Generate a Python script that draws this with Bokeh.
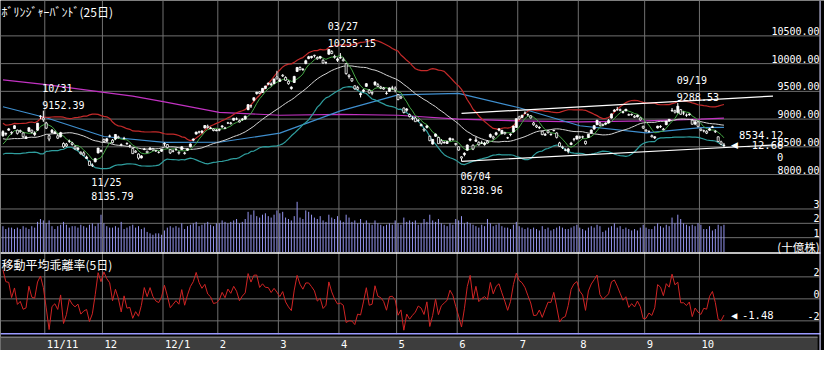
import numpy as np
from bokeh.plotting import figure
from bokeh.models import Range1d, Label
from bokeh.core.properties import value
from bokeh.embed import file_html
from bokeh.resources import INLINE

# ---------------- data (Nikkei 225, daily, 2011/10/11 - 2012/10/12) ----------------
pre_closes = [8951, 8784, 8591, 8763, 8793, 8738, 8536, 8617, 8519, 8669, 8864, 8721,
              8741, 8560, 8374, 8610, 8616, 8701, 8700, 8545, 8456, 8383, 8522, 8606]

opens = [
    8700, 8730, 8800, 8760, 8830, 8800, 8790, 8750, 8650, 8780, 8800, 8720, 8800, 9050, 9020,
    8930, 8700, 8760, 8740, 8700, 8680, 8560, 8550, 8600, 8570, 8500, 8450, 8400, 8390, 8290, 8240, 8170, 8230, 8390, 8420,
    8630, 8600, 8690, 8620, 8640, 8680, 8540, 8650, 8560, 8520, 8470, 8420, 8370, 8300, 8450, 8420, 8450, 8470, 8430, 8400, 8420,
    8550, 8540, 8450, 8420, 8450, 8400, 8450, 8390, 8440, 8500, 8620, 8730, 8770, 8760, 8840, 8870, 8830, 8820, 8790,
    8800, 8860, 8840, 8930, 8930, 8980, 9000, 8970, 8990, 9000, 9170, 9240, 9340, 9460, 9490, 9480, 9550, 9630, 9620, 9640, 9760,
    9680, 9790, 9750, 9680, 9550, 9660, 9860, 9930, 9890, 10000, 10090, 10110, 10150, 10110, 10100, 10060, 10020, 10170, 10220, 10130, 10060,
    10100, 10070, 10000, 9790, 9730, 9600, 9570, 9440, 9500, 9590, 9520, 9480, 9620, 9620, 9580, 9560, 9460, 9500, 9560, 9560,
    9440, 9400, 9200, 9160, 9080, 9020, 9020, 8970, 8880, 8820, 8850, 8690, 8550, 8690, 8670, 8610, 8570, 8560, 8620, 8640, 8560,
    8500, 8320, 8360, 8440, 8620, 8530, 8600, 8580, 8570, 8540, 8600, 8680, 8680, 8720, 8800, 8740, 8760, 8660, 8720, 8770, 8850,
    9040, 9030, 9110, 9080, 9060, 8930, 8880, 8840, 8780, 8710, 8790, 8720, 8790, 8750, 8570, 8500, 8440, 8420, 8540, 8640, 8640,
    8680, 8680, 8600, 8670, 8750, 8820, 8900, 8930, 8900, 8910, 8930, 9020, 9140, 9170, 9170, 9120, 9150, 9080, 9080, 9050, 9040, 9020, 8870,
    8800, 8770, 8700, 8660, 8840, 8860, 8820, 8900, 8970, 9150, 9150, 9120, 9170, 9110, 9070, 9080, 8980, 8910, 8950,
    8820, 8790, 8780, 8800, 8850, 8780, 8680, 8590, 8520]

highs = [
    8800, 8760, 8840, 8780, 8890, 8810, 8810, 8760, 8700, 8850, 8810, 8780, 8930, 9070, 9152,
    8950, 8720, 8820, 8790, 8730, 8770, 8580, 8570, 8630, 8590, 8530, 8490, 8420, 8420, 8340, 8250, 8200, 8300, 8480, 8450,
    8650, 8660, 8720, 8640, 8730, 8700, 8560, 8680, 8580, 8540, 8480, 8440, 8380, 8350, 8480, 8430, 8490, 8480, 8440, 8420, 8460,
    8580, 8550, 8460, 8450, 8480, 8420, 8510, 8410, 8470, 8560, 8650, 8770, 8790, 8800, 8890, 8900, 8860, 8830, 8820,
    8830, 8890, 8860, 8950, 8950, 9020, 9030, 8990, 9020, 9060, 9270, 9260, 9390, 9490, 9500, 9560, 9600, 9660, 9660, 9730, 9870,
    9740, 9810, 9770, 9700, 9590, 9780, 9940, 9950, 9920, 10070, 10140, 10140, 10160, 10130, 10140, 10080, 10040, 10255, 10240, 10160, 10110,
    10190, 10110, 10010, 9810, 9740, 9610, 9600, 9480, 9540, 9650, 9540, 9500, 9680, 9650, 9600, 9580, 9500, 9570, 9600, 9590,
    9450, 9420, 9210, 9200, 9100, 9050, 9040, 9000, 8920, 8830, 8890, 8700, 8640, 8740, 8680, 8640, 8600, 8610, 8660, 8650, 8570,
    8510, 8330, 8400, 8540, 8650, 8540, 8680, 8600, 8610, 8590, 8620, 8740, 8700, 8770, 8830, 8800, 8770, 8680, 8740, 8880, 9010,
    9060, 9080, 9140, 9100, 9070, 8950, 8900, 8870, 8790, 8750, 8800, 8740, 8810, 8760, 8590, 8520, 8470, 8480, 8590, 8660, 8700,
    8700, 8700, 8610, 8730, 8810, 8890, 8980, 8950, 8920, 8940, 9000, 9100, 9180, 9220, 9190, 9150, 9180, 9100, 9100, 9070, 9080, 9030, 8880,
    8820, 8800, 8720, 8690, 8880, 8890, 8840, 8970, 9000, 9200, 9170, 9289, 9180, 9140, 9100, 9100, 9000, 8960, 8970,
    8830, 8810, 8800, 8840, 8880, 8800, 8690, 8610, 8570]

lows = [
    8680, 8700, 8790, 8720, 8820, 8720, 8750, 8660, 8640, 8770, 8740, 8690, 8790, 9000, 8950,
    8820, 8600, 8750, 8730, 8640, 8670, 8480, 8500, 8570, 8520, 8450, 8430, 8360, 8340, 8280, 8160, 8136, 8220, 8380, 8400,
    8580, 8590, 8670, 8560, 8620, 8650, 8510, 8630, 8540, 8480, 8370, 8390, 8270, 8290, 8440, 8390, 8440, 8430, 8410, 8380, 8410,
    8510, 8470, 8370, 8400, 8430, 8360, 8440, 8360, 8430, 8490, 8600, 8720, 8740, 8740, 8830, 8830, 8820, 8780, 8780,
    8780, 8840, 8820, 8910, 8900, 8970, 8980, 8940, 8970, 8990, 9160, 9200, 9320, 9440, 9450, 9470, 9540, 9610, 9590, 9630, 9720,
    9670, 9760, 9690, 9620, 9530, 9650, 9850, 9880, 9870, 9990, 10080, 10090, 10110, 10070, 10080, 10000, 9990, 10160, 10170, 10090, 10030,
    10090, 10040, 9800, 9730, 9670, 9530, 9520, 9390, 9480, 9580, 9460, 9430, 9600, 9580, 9540, 9530, 9440, 9490, 9530, 9480,
    9340, 9360, 9100, 9130, 9030, 8980, 8950, 8950, 8870, 8770, 8830, 8600, 8540, 8680, 8550, 8540, 8560, 8550, 8600, 8610, 8520,
    8430, 8239, 8330, 8430, 8600, 8440, 8590, 8520, 8550, 8520, 8560, 8660, 8630, 8700, 8780, 8720, 8720, 8640, 8690, 8760, 8840,
    8990, 9020, 9090, 9050, 9010, 8880, 8840, 8820, 8710, 8700, 8740, 8700, 8780, 8650, 8500, 8460, 8420, 8380, 8530, 8600, 8630,
    8640, 8650, 8540, 8660, 8740, 8810, 8890, 8870, 8870, 8890, 8920, 9010, 9130, 9150, 9140, 9100, 9140, 9060, 9060, 9020, 9030, 8970, 8820,
    8770, 8760, 8670, 8640, 8830, 8840, 8800, 8890, 8950, 9130, 9100, 9100, 9080, 9070, 9040, 9060, 8900, 8890, 8850,
    8780, 8760, 8730, 8790, 8840, 8750, 8590, 8530, 8490]

closes = [
    8774, 8739, 8823, 8748, 8880, 8742, 8773, 8682, 8679, 8844, 8762, 8748, 8927, 9050, 8988,
    8836, 8640, 8801, 8767, 8656, 8755, 8501, 8514, 8604, 8542, 8463, 8480, 8375, 8348, 8315, 8165, 8160, 8287, 8478, 8435,
    8597, 8644, 8696, 8575, 8722, 8665, 8536, 8654, 8553, 8519, 8377, 8402, 8296, 8336, 8460, 8395, 8479, 8441, 8424, 8399, 8455,
    8560, 8489, 8390, 8422, 8448, 8386, 8500, 8378, 8466, 8551, 8640, 8766, 8766, 8785, 8884, 8849, 8841, 8793, 8803,
    8810, 8877, 8832, 8929, 8918, 9016, 9002, 8947, 8999, 9052, 9260, 9238, 9384, 9485, 9463, 9554, 9596, 9647, 9634, 9723, 9723,
    9707, 9777, 9699, 9638, 9576, 9769, 9930, 9890, 9899, 10051, 10123, 10130, 10142, 10086, 10127, 10011, 10018, 10255, 10183, 10115, 10084,
    10110, 10050, 9820, 9768, 9688, 9546, 9538, 9459, 9525, 9638, 9471, 9465, 9667, 9588, 9561, 9542, 9466, 9562, 9561, 9521,
    9351, 9380, 9119, 9182, 9045, 9010, 8953, 8974, 8901, 8801, 8877, 8611, 8633, 8729, 8557, 8564, 8580, 8593, 8658, 8633, 8543,
    8440, 8296, 8383, 8533, 8639, 8459, 8625, 8537, 8568, 8569, 8569, 8721, 8656, 8752, 8824, 8798, 8735, 8663, 8730, 8874, 9007,
    9003, 9067, 9104, 9080, 9021, 8897, 8858, 8851, 8720, 8724, 8755, 8727, 8796, 8670, 8508, 8488, 8443, 8462, 8567, 8635, 8695,
    8665, 8678, 8555, 8726, 8803, 8881, 8979, 8891, 8885, 8930, 8973, 9093, 9163, 9171, 9157, 9132, 9178, 9071, 9085, 9033, 9069, 8984, 8840,
    8784, 8776, 8680, 8681, 8872, 8869, 8807, 8960, 8995, 9159, 9124, 9232, 9087, 9110, 9069, 9092, 8907, 8950, 8870,
    8797, 8786, 8747, 8825, 8863, 8770, 8596, 8547, 8534]

volumes = [  # billions of shares
    1.8, 1.6, 1.7, 1.7, 1.6, 1.7, 1.6, 1.8, 1.7, 1.6, 1.8, 1.7, 2.1, 2.3, 2.2,
    2.0, 2.2, 1.8, 1.6, 1.8, 1.9, 2.1, 1.9, 1.7, 1.8, 1.8, 1.7, 1.9, 1.8, 1.7, 1.9, 2.0, 1.8, 2.0, 2.6,
    2.0, 1.8, 1.7, 1.7, 1.8, 1.7, 2.1, 1.6, 1.7, 1.8, 1.9, 1.7, 1.8, 1.6, 1.7, 1.4, 1.3, 1.2, 1.3, 1.3, 1.2,
    1.5, 1.7, 1.8, 1.7, 1.8, 1.7, 2.0, 1.6, 1.8, 1.9, 2.0, 2.1, 1.8, 1.9, 2.0, 2.1, 1.9, 1.8, 2.0,
    2.0, 2.2, 2.1, 2.0, 2.1, 2.2, 2.3, 2.0, 2.1, 2.3, 2.8, 2.6, 2.9, 2.5, 2.4, 2.6, 2.7, 2.5, 2.4, 2.6, 2.9,
    2.7, 2.8, 2.4, 2.3, 2.2, 2.5, 3.5, 2.4, 2.3, 2.9, 2.8, 2.6, 2.4, 2.3, 2.5, 2.2, 2.1, 2.6, 2.4, 2.3, 2.5,
    2.2, 2.1, 2.6, 2.4, 2.1, 2.2, 2.0, 2.3, 2.0, 2.2, 2.0, 1.9, 2.2, 2.0, 1.9, 1.8, 1.9, 2.0, 1.9, 2.2,
    2.0, 1.9, 2.4, 2.1, 2.2, 2.1, 2.2, 1.9, 2.0, 2.3, 2.1, 2.6, 2.2, 2.1, 2.3, 2.0, 1.9, 1.8, 2.0, 1.9, 2.3,
    2.2, 2.5, 2.0, 2.1, 2.0, 1.9, 1.8, 1.7, 1.9, 1.8, 2.3, 2.0, 1.8, 1.9, 2.0, 1.8, 1.7, 1.7, 1.6, 1.9, 2.1,
    1.8, 1.7, 1.6, 1.7, 1.6, 1.7, 1.6, 1.5, 1.8, 1.6, 1.7, 1.5, 1.6, 1.7, 1.8, 1.7, 1.6, 1.6, 1.7, 1.8, 1.9,
    1.7, 1.6, 1.5, 1.7, 1.8, 1.7, 1.9, 1.8, 1.4, 1.5, 1.7, 1.8, 2.0, 1.7, 1.8, 1.6, 1.7, 1.6, 1.5, 1.6, 1.5, 1.7, 1.9,
    1.7, 1.6, 1.6, 1.8, 2.0, 1.8, 1.7, 1.9, 1.8, 2.4, 2.0, 2.6, 2.3, 2.0, 1.9, 1.8, 1.9, 1.8, 2.0,
    1.9, 1.6, 1.6, 1.8, 1.5, 1.6, 1.9, 1.8, 1.9]

month_start = [15, 35, 56, 75, 96, 117, 137, 158, 179, 200, 223, 242]
month_labels = ["11/11", "12", "12/1", "2", "3", "4", "5", "6", "7", "8", "9", "10"]

price_ticks = [10500, 10000, 9500, 9000, 8500, 8000]
price_tick_labels = ["10500.00", "10000.00", "9500.00", "9000.00", "8500.00", "8000.00"]
vol_ticks = [3, 2, 1]
vol_tick_labels = ["3", "2", "1"]
osc_ticks = [2, 0, -2]
osc_tick_labels = ["2", "0", "-2"]

# long moving averages (75-day steel blue, 200-day magenta)
ma75_idx = [0, 15, 35, 56, 75, 96, 117, 137, 158, 179, 200, 223, 242, 250]
ma75_val = [9223, 9024, 8686, 8580, 8582, 8746, 9147, 9435, 9464, 9204, 8880, 8750, 8845, 8850]
ma200_idx = [0, 15, 35, 45, 56, 75, 96, 117, 137, 158, 179, 200, 223, 242, 250]
ma200_val = [9707, 9620, 9480, 9414, 9310, 9121, 9069, 9086, 9069, 9000, 8966, 8948, 8966, 9000, 9017]

peak_idx = [14, 113, 234]
peak_date = ["10/31", "03/27", "09/19"]
peak_val = ["9152.39", "10255.15", "9288.53"]
trough_idx = [31, 159]
trough_date = ["11/25", "06/04"]
trough_val = ["8135.79", "8238.96"]

trend_x0 = [159, 159]
trend_y0 = [9103, 8239]
trend_x1 = [267, 268]
trend_y1 = [9414, 8535]

last_texts = ["8534.12", "-12.66", "0"]

# ---------------- derived indicators ----------------
N = len(closes)
for name, arr in [("opens", opens), ("highs", highs), ("lows", lows), ("volumes", volumes)]:
    if len(arr) != N:
        raise SystemExit(f"{name} has {len(arr)} values, closes has {N}")
idx = np.arange(N)
o = np.array(opens, float); h = np.array(highs, float)
l = np.array(lows, float); c = np.array(closes, float)
allc = np.array(pre_closes + closes, float)
P = len(pre_closes)
ma5 = np.array([allc[P + i - 4:P + i + 1].mean() for i in range(N)])
win = [allc[P + i - 24:P + i + 1] for i in range(N)]
ma25 = np.array([w.mean() for w in win])
sd25 = np.array([w.std() for w in win])
osc = (c - ma5) / ma5 * 100.0

# ---------------- layout helpers (reference pixel grid 840 x 366) ----------------
W, H = 824, 350
SX, SY = W / 840.0, H / 366.0
X0, DX = 2.5, 2.94
def ix(px): return (px - X0) / DX
def py(y): return 10500 - (y - 37) / 0.058      # price panel
def vy(y): return (263 - y) / 15.0              # volume panel
def oy(y): return (312 - y) / 11.5              # deviation panel

p = figure(width=W, height=H, output_backend="svg", toolbar_location=None,
           x_range=Range1d(ix(0), ix(840)), y_range=Range1d(py(366), py(0)),
           x_axis_type=None, y_axis_type=None, min_border=0,
           background_fill_color="black", border_fill_color="black", outline_line_color=None)
p.extra_y_ranges = {"vol": Range1d(vy(366), vy(0)), "osc": Range1d(oy(366), oy(0))}
p.grid.visible = False

GRID = "#707070"
mono = value("DejaVu Sans Mono")
jp = value("Noto Sans CJK JP")
NUM = "10px"

# grid lines
mb = [m - 0.5 for m in month_start]
p.segment(x0=mb, y0=[py(349)] * len(mb), x1=mb, y1=[py(0)] * len(mb), line_color=GRID, line_width=1)
p.segment(x0=[ix(0)] * 6, y0=price_ticks, x1=[ix(835)] * 6, y1=price_ticks, line_color=GRID, line_width=1)
p.segment(x0=[ix(0)] * 3, y0=vol_ticks, x1=[ix(835)] * 3, y1=vol_ticks, line_color=GRID, line_width=1, y_range_name="vol")
p.segment(x0=[ix(0)] * 3, y0=osc_ticks, x1=[ix(835)] * 3, y1=osc_ticks, line_color=GRID, line_width=1, y_range_name="osc")

# indicator lines
p.line(ma200_idx, ma200_val, line_color="#c232c2", line_width=1.2)
p.line(ma75_idx, ma75_val, line_color="#3f8fcf", line_width=1.2)
p.line(idx, ma25 + 2 * sd25, line_color="#c42a2a", line_width=1.2)
p.line(idx, ma25 - 2 * sd25, line_color="#2f9e9e", line_width=1.2)
p.line(idx, ma25, line_color="#d4d4d4", line_width=1)
p.line(idx, ma5, line_color="#45a845", line_width=1)

# trend lines
p.segment(x0=trend_x0, y0=trend_y0, x1=trend_x1, y1=trend_y1, line_color="white", line_width=1.2)

# candles
up = c >= o
p.segment(x0=idx, y0=np.minimum(l, np.minimum(o, c)), x1=idx, y1=np.maximum(h, np.maximum(o, c)),
          line_color="white", line_width=1)
p.vbar(x=idx[up], width=0.7, top=c[up], bottom=o[up], fill_color="white", line_color="white", line_width=0.8)
p.vbar(x=idx[~up], width=0.7, top=o[~up], bottom=c[~up], fill_color="black", line_color="white", line_width=0.8)

# volume
p.segment(x0=idx, y0=np.zeros(N), x1=idx, y1=volumes, line_color="#9494ee", line_width=1, y_range_name="vol")

# deviation rate
p.line(idx, osc, line_color="#d02424", line_width=1, y_range_name="osc")

# separators / frame lines
p.segment(x0=[ix(0)], y0=[vy(264)], x1=[ix(836)], y1=[vy(264)], line_color="white", line_width=1.6, y_range_name="vol")
p.segment(x0=[ix(0)], y0=[oy(348.5)], x1=[ix(836)], y1=[oy(348.5)], line_color="#9a9aff", line_width=1.6, y_range_name="osc")
p.quad(left=[ix(0)], right=[ix(833)], bottom=[oy(366)], top=[oy(352)], fill_color="#3d3d3d", line_color=None, y_range_name="osc")
p.segment(x0=[ix(0)], y0=[oy(352)], x1=[ix(833)], y1=[oy(352)], line_color="#9a9a9a", line_width=1, y_range_name="osc")
p.segment(x0=[ix(835.5)], y0=[py(0)], x1=[ix(835.5)], y1=[py(366)], line_color="#c8c8f0", line_width=1.2)

# month labels
p.text(x=mb, y=[oy(359)] * len(mb), text=month_labels, x_offset=2, text_align="left", text_baseline="middle",
       text_color="white", text_font=mono, text_font_size="10.5px", y_range_name="osc")

# right side scale labels
RX = ix(835)
p.text(x=[RX] * 6, y=price_ticks, text=price_tick_labels, y_offset=-1, text_align="right", text_baseline="bottom",
       text_color="white", text_font=mono, text_font_size=NUM)
p.text(x=[RX] * 3, y=vol_ticks, text=vol_tick_labels, y_offset=-1, text_align="right", text_baseline="bottom",
       text_color="white", text_font=mono, text_font_size=NUM, y_range_name="vol")
p.text(x=[RX] * 3, y=osc_ticks, text=osc_tick_labels, y_offset=-1, text_align="right", text_baseline="bottom",
       text_color="white", text_font=mono, text_font_size=NUM, y_range_name="osc")
p.text(x=[RX], y=[vy(258)], text=["(十億株)"], text_align="right", text_baseline="middle",
       text_color="white", text_font=jp, text_font_size="11.5px", y_range_name="vol")

# peak / trough annotations
ph = [highs[i] for i in peak_idx]
tl = [lows[i] for i in trough_idx]
p.text(x=peak_idx, y=ph, text=peak_val, x_offset=-1, y_offset=-2, text_align="left", text_baseline="bottom",
       text_color="white", text_font=mono, text_font_size=NUM)
p.text(x=peak_idx, y=ph, text=peak_date, x_offset=-1, y_offset=-17, text_align="left", text_baseline="bottom",
       text_color="white", text_font=mono, text_font_size=NUM)
p.text(x=trough_idx, y=tl, text=trough_date, x_offset=-1, y_offset=10, text_align="left", text_baseline="top",
       text_color="white", text_font=mono, text_font_size=NUM)
p.text(x=trough_idx, y=tl, text=trough_val, x_offset=-1, y_offset=25, text_align="left", text_baseline="top",
       text_color="white", text_font=mono, text_font_size=NUM)

# last value markers
last = N - 1
p.text(x=[last], y=[c[last]], text=["◀"], x_offset=7, text_align="left", text_baseline="middle",
       text_color="white", text_font=value("DejaVu Sans"), text_font_size="9px")
p.text(x=[ix(798)] * 3, y=[c[last]] * 3, text=last_texts, y_offset=[-10, 0, 12], text_align="right",
       text_baseline="middle", text_color="white", text_font=mono, text_font_size="10.5px")
p.text(x=[last, last], y=[osc[last]] * 2, text=["◀", f"{osc[last]:.2f}"], x_offset=[7, 18], text_align="left",
       text_baseline="middle", text_color="white", text_font=mono, text_font_size="10.5px", y_range_name="osc")

# panel titles
p.add_layout(Label(x=1, y=H - 12 * SY, x_units="screen", y_units="screen", text="ﾎﾞﾘﾝｼﾞｬｰﾊﾞﾝﾄﾞ(25日)",
                   text_color="white", text_font="Noto Sans CJK JP", text_font_size="12px", text_baseline="middle"))
p.add_layout(Label(x=1, y=H - 276 * SY, x_units="screen", y_units="screen", text="移動平均乖離率(5日)",
                   text_color="white", text_font="Noto Sans CJK JP", text_font_size="12px", text_baseline="middle"))

open("out.html", "w").write(file_html(p, INLINE))
